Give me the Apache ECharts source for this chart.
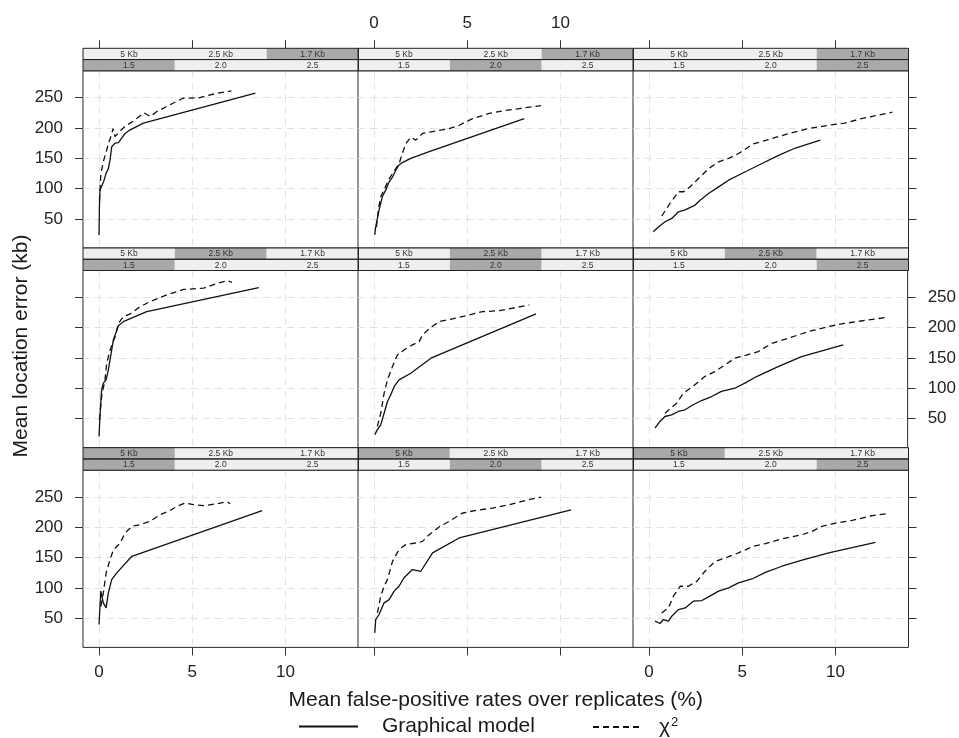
<!DOCTYPE html>
<html>
<head>
<meta charset="utf-8">
<script src="https://cdn.jsdelivr.net/npm/echarts@6/dist/echarts.min.js"></script>
<style>html,body{margin:0;padding:0;background:#fff}#c{width:959px;height:738px}</style>
</head>
<body>
<div id="c"></div>
<script>
// ---------------- data ----------------
const kbLevels = ['5 Kb', '2.5 Kb', '1.7 Kb'];
const ratioLevels = ['1.5', '2.0', '2.5'];
// panel rows (top to bottom) highlight in kb strip; columns highlight ratio
const rowKbIndex = [2, 1, 0];
const xTicks = [0, 5, 10];
const yTicks = [50, 100, 150, 200, 250];
const xRange = [-0.86, 13.92];
const yRange = [2.3, 294.2];
const seriesNames = ['Graphical model', 'χ²'];

// Row 1: 1.7 Kb
const gm_17_15 = [[0,23.5],[0.02,70],[0.05,97.5],[0.15,100],[0.25,112],[0.38,125.5],[0.5,133],[0.59,147],[0.68,169],[0.86,175],[1.04,176],[1.4,191],[1.67,197],[2.38,208],[8.39,257.6]];
const chi_17_15 = [[0.02,80],[0.1,125],[0.25,147],[0.38,160],[0.5,174],[0.68,190],[0.75,199],[0.86,186],[1.04,192],[1.4,203],[1.83,211],[2.4,225],[2.75,219],[3.1,227],[3.6,235],[4.5,249],[5.4,250],[6.3,257],[7.1,261]];
const gm_17_20 = [[0.04,24],[0.09,37],[0.18,51],[0.27,65],[0.45,87],[0.63,98],[0.8,111],[0.99,119],[1.16,130],[1.34,139],[1.52,143],[1.97,150],[2.96,161],[8.06,215.5]];
const chi_17_20 = [[0.13,37],[0.23,65],[0.36,87],[0.54,98],[0.77,114],[0.99,125],[1.34,141],[1.52,158],[1.7,174],[1.97,185],[2.24,180],[2.6,191],[3.05,193.5],[3.5,196],[4.03,199],[4.57,204.5],[5.29,215.5],[6.18,224],[7.08,229],[7.8,232],[8.96,237]];
const gm_17_25 = [[0.23,29],[0.5,37],[0.86,45.5],[1.22,51],[1.58,62],[1.94,65],[2.47,73],[2.74,81],[3.19,92],[3.73,103],[4.27,114],[4.98,125],[6.06,141.5],[6.95,155],[7.85,167],[9.19,180]];
const chi_17_25 = [[0.68,55],[1.13,76],[1.58,95],[1.85,95],[2.2,103],[2.74,119.5],[3.19,133],[3.73,144],[4.27,150],[4.8,158],[5.07,163],[5.52,173],[6.42,181],[7.5,191],[8.57,199],[9.64,204.5],[10.5,208],[11.4,215.5],[13.05,226]];
// Row 2: 2.5 Kb
const gm_25_15 = [[0,21],[0.05,54],[0.14,97.6],[0.23,108.6],[0.38,114],[0.5,130.5],[0.59,147],[0.77,180],[1.04,203],[1.3,210],[2.56,226.4],[8.57,266]];
const chi_25_15 = [[0.02,48],[0.14,87],[0.32,114],[0.41,141],[0.59,163],[0.86,185],[1.04,207],[1.3,218],[1.67,222.6],[2.2,234.6],[2.74,243],[3.64,254],[4.53,263],[5.61,265],[6.33,273],[6.86,277.4],[7.13,274.7]];
const gm_25_20 = [[0.04,23.6],[0.18,32],[0.36,40],[0.54,59],[0.72,78.4],[0.9,89.4],[1.08,103],[1.34,114],[1.97,125],[3.05,149.7],[4.93,174],[8.69,222.6]];
const chi_25_20 = [[0.18,37.3],[0.36,59],[0.54,92],[0.72,114],[0.99,136],[1.25,155],[1.61,163.4],[2.06,171.6],[2.42,177],[2.6,188],[3.05,200.7],[3.5,210],[4.57,217],[5.82,226.4],[6.72,228],[8.33,237.4]];
const gm_25_25 = [[0.32,34.5],[0.59,45.5],[0.86,53.7],[1.22,56.5],[1.58,62],[1.94,64.7],[2.38,73],[2.83,80],[3.37,86.6],[3.9,95],[4.62,100.3],[5.16,108.6],[5.79,119.5],[6.95,136],[8.21,152.4],[10.45,171.6]];
const chi_25_25 = [[0.86,59],[1.49,75.7],[1.85,92],[2.47,105.8],[3.0,119.5],[3.55,127.7],[4.09,138.7],[4.62,149.7],[5.25,155],[5.88,160.6],[6.6,174],[7.49,182.6],[8.57,193.5],[9.64,201.7],[10.5,207],[11.4,211],[12.78,217]];
// Row 3: 5 Kb
const gm_5_15 = [[0,40],[0.05,70],[0.1,95],[0.23,75.7],[0.38,67.4],[0.5,92],[0.68,114],[0.95,125],[1.76,152.4],[8.75,227.5]];
const chi_5_15 = [[0.1,70],[0.23,92],[0.38,125],[0.59,147],[0.77,163],[1.13,174],[1.4,190.8],[1.76,201.8],[2.2,204.5],[2.74,210],[3.28,221],[3.73,226.4],[4.18,234.6],[4.62,240],[5.07,237.4],[5.61,235.7],[6.33,239],[6.86,242.3],[7.04,239]];
const gm_5_20 = [[0.04,26.3],[0.09,48.2],[0.18,45.5],[0.27,56.5],[0.36,59.2],[0.54,75.7],[0.81,81],[1.08,95],[1.34,103],[1.61,117],[2.06,130.5],[2.51,127.7],[3.14,158],[4.57,182.6],[10.57,229]];
const chi_5_20 = [[0.18,59],[0.36,86.6],[0.54,103],[0.72,114],[0.99,144],[1.34,163.4],[1.7,171.6],[2.24,174.3],[2.6,177],[2.96,188],[3.49,200.7],[4.03,210],[4.75,223.7],[5.47,228],[6.36,231.8],[7.26,237.4],[8.15,244.5],[8.96,250]];
const gm_5_25 = [[0.32,45.5],[0.59,41.7],[0.77,48.2],[1.04,45.5],[1.22,53.7],[1.58,64.7],[1.94,67.4],[2.38,78.4],[2.83,79.5],[3.19,85.5],[3.73,95],[4.27,100.3],[4.8,108.6],[5.52,115],[6.24,126],[7.13,136],[8.21,146],[9.64,158],[12.15,175.4]];
const chi_5_25 = [[0.68,59],[1.04,67.4],[1.31,86.6],[1.67,103],[2.11,103],[2.56,111],[3.0,127.7],[3.55,144],[4.09,149.7],[4.8,158],[5.61,169],[6.24,173.4],[7.13,181],[8.21,188],[8.75,193.5],[9.28,201.7],[10.0,207],[10.9,211.6],[11.98,219.3],[12.78,222.6]];

const panelGM = [[gm_17_15, gm_17_20, gm_17_25],[gm_25_15, gm_25_20, gm_25_25],[gm_5_15, gm_5_20, gm_5_25]];
const panelChi = [[chi_17_15, chi_17_20, chi_17_25],[chi_25_15, chi_25_20, chi_25_25],[chi_5_15, chi_5_20, chi_5_25]];

// ---------------- layout ----------------
const FONT = '"Liberation Sans", Arial, Helvetica, sans-serif';
const COL_LEFT = [83, 358, 633];
const PANEL_W = 275.5;
const ROW_TOP = [48.3, 248, 447.7];
const STRIP_H = 11.25;
const PLOT_H = 177.2;
const LIGHT = '#efefef', DARK = '#a9a9a9';
const TITLE_SIZE = 21;

const grids = [], xAxes = [], yAxes = [], series = [], graphics = [];
let gi = 0;
for (let r = 0; r < 3; r++) {
  for (let c = 0; c < 3; c++) {
    const plotTop = ROW_TOP[r] + 2 * STRIP_H;
    grids.push({
      left: COL_LEFT[c], top: plotTop, width: PANEL_W, height: PLOT_H,
      show: true, borderColor: '#2a2a2a', borderWidth: 1, backgroundColor: '#fff'
    });
    const xTickShow = (r === 0 || r === 2);
    const xLabelShow = (r === 0 && c === 1) || (r === 2 && c !== 1);
    const xa = {
      type: 'value', gridIndex: gi, min: xRange[0], max: xRange[1],
      position: r === 0 ? 'top' : 'bottom', offset: r === 0 ? 2 * STRIP_H : 0,
      axisLine: { show: false, onZero: false },
      axisTick: { show: xTickShow, customValues: xTicks, length: 8, inside: false, lineStyle: { color: '#333', width: 1 } },
      axisLabel: { show: xLabelShow, customValues: xTicks, margin: 16, fontSize: 17, fontFamily: FONT, color: '#222' },
      splitLine: { show: true, lineStyle: { color: '#e2e2e2', width: 1, type: [7, 5] } }
    };
    if (r === 2 && c === 1) {
      xa.name = 'Mean false-positive rates over replicates (%)';
      xa.nameLocation = 'middle';
      xa.nameGap = 42;
      xa.nameTextStyle = { fontSize: TITLE_SIZE, fontFamily: FONT, color: '#1a1a1a' };
    }
    xAxes.push(xa);
    const yTickShow = (c === 0 || c === 2);
    const yLabelShow = (c === 0 && r !== 1) || (c === 2 && r === 1);
    yAxes.push({
      type: 'value', gridIndex: gi, min: yRange[0], max: yRange[1],
      position: c === 2 ? 'right' : 'left',
      axisLine: { show: false, onZero: false },
      axisTick: { show: yTickShow, customValues: yTicks, length: 8, inside: false, lineStyle: { color: '#333', width: 1 } },
      axisLabel: { show: yLabelShow, customValues: yTicks, margin: 20, fontSize: 17, fontFamily: FONT, color: '#222' },
      splitLine: { show: true, lineStyle: { color: '#e2e2e2', width: 1, type: [7, 5] } }
    });
    series.push({
      name: seriesNames[0], type: 'line', xAxisIndex: gi, yAxisIndex: gi,
      data: panelGM[r][c], symbol: 'none', showSymbol: false, silent: true, z: 3,
      lineStyle: { color: '#111', width: 1.3, type: 'solid' }, itemStyle: { color: '#111' }
    });
    series.push({
      name: seriesNames[1], type: 'line', xAxisIndex: gi, yAxisIndex: gi,
      data: panelChi[r][c], symbol: 'none', showSymbol: false, silent: true, z: 3,
      lineStyle: { color: '#111', width: 1.3, type: [6, 4] }, itemStyle: { color: '#111' }
    });
    // strips
    const x0 = COL_LEFT[c], y0 = ROW_TOP[r];
    const w3 = PANEL_W / 3;
    for (let s = 0; s < 2; s++) {
      const levels = s === 0 ? kbLevels : ratioLevels;
      const hi = s === 0 ? rowKbIndex[r] : c;
      const sy = y0 + s * STRIP_H;
      for (let k = 0; k < 3; k++) {
        graphics.push({
          type: 'rect', silent: true, z: 10,
          shape: { x: x0 + k * w3, y: sy, width: w3, height: STRIP_H },
          style: { fill: k === hi ? DARK : LIGHT, stroke: null }
        });
        graphics.push({
          type: 'text', silent: true, z: 12,
          x: x0 + (k + 0.5) * w3, y: sy + STRIP_H / 2 + 0.5,
          style: { text: levels[k], fontSize: 8.5, fontFamily: FONT, fill: '#333', align: 'center', verticalAlign: 'middle' }
        });
      }
      graphics.push({
        type: 'rect', silent: true, z: 11,
        shape: { x: x0, y: sy, width: PANEL_W, height: STRIP_H },
        style: { fill: null, stroke: '#222', lineWidth: 1 }
      });
    }
    gi++;
  }
}

graphics.push({
  type: 'text', silent: true, z: 12,
  x: 21, y: 346, rotation: Math.PI / 2,
  style: { text: 'Mean location error (kb)', fontSize: TITLE_SIZE, fontFamily: FONT, fill: '#1a1a1a', align: 'center', verticalAlign: 'middle' }
});

const legendBase = {
  top: 716, itemHeight: 14, selectedMode: false, padding: 0,
  itemStyle: { color: 'rgba(0,0,0,0)', borderWidth: 0, opacity: 0 }
};

const option = {
  animation: false,
  backgroundColor: '#fff',
  grid: grids,
  xAxis: xAxes,
  yAxis: yAxes,
  series: series,
  graphic: { elements: graphics },
  legend: [
    Object.assign({}, legendBase, {
      data: [seriesNames[0]], left: 298, itemWidth: 59,
      textStyle: { fontSize: TITLE_SIZE, fontFamily: FONT, color: '#1a1a1a', padding: [0, 0, 0, 19] }
    }),
    Object.assign({}, legendBase, {
      data: [seriesNames[1]], left: 592, itemWidth: 50,
      formatter: function () { return 'χ{s|2}'; },
      textStyle: { fontSize: TITLE_SIZE, fontFamily: FONT, color: '#1a1a1a', padding: [0, 0, 0, 11],
        rich: { s: { fontSize: 13, fontFamily: FONT, color: '#1a1a1a', verticalAlign: 'top', padding: [0, 0, 9, 1] } } }
    })
  ]
};

const chart = echarts.init(document.getElementById('c'), null, { renderer: 'canvas' });
chart.setOption(option);
</script>
</body>
</html>
